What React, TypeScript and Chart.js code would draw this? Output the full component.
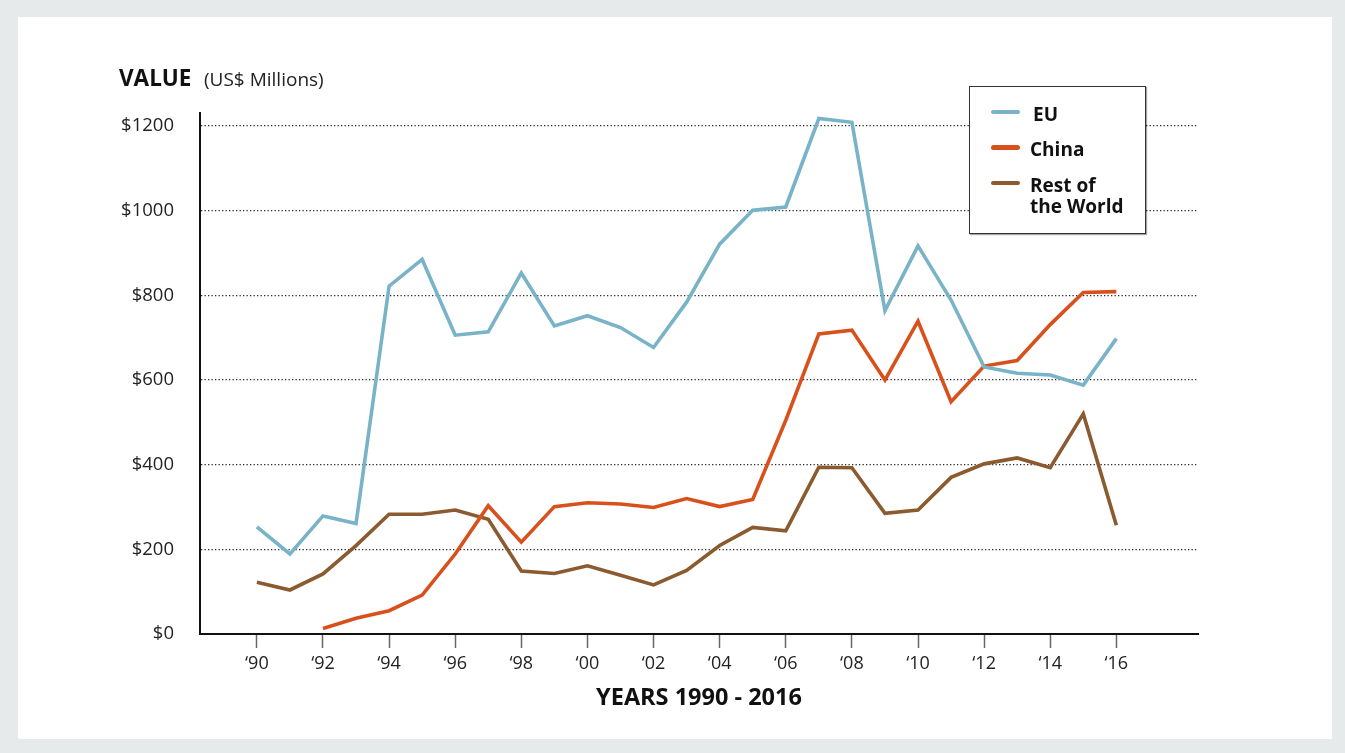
import React, { useEffect, useRef } from "react";
import { Chart, registerables } from "chart.js";

Chart.register(...registerables);

// ---------- data ----------
const years = [
  1990, 1991, 1992, 1993, 1994, 1995, 1996, 1997, 1998, 1999, 2000, 2001, 2002,
  2003, 2004, 2005, 2006, 2007, 2008, 2009, 2010, 2011, 2012, 2013, 2014, 2015, 2016,
];
const euValues = [
  253, 189, 279, 261, 822, 885, 706, 714, 853, 728, 752, 724, 677,
  784, 921, 1001, 1009, 1218, 1209, 764, 917, 789, 631, 616, 612, 588, 698,
];
const chinaValues = [
  null, null, 13, 37, 55, 92, 189, 303, 217, 301, 310, 307, 299,
  320, 301, 318, 505, 709, 718, 600, 739, 549, 633, 646, 731, 807, 809,
];
const restValues = [
  122, 104, 142, 209, 283, 283, 293, 271, 149, 143, 161, 139, 116,
  150, 209, 252, 244, 394, 393, 285, 293, 370, 402, 416, 393, 520, 257,
];
const seriesNames = ["EU", "China", "Rest of\nthe World"];
const seriesColors = ["#79b3c8", "#d8511d", "#8c5a2f"];

const xTickYears = [1990, 1992, 1994, 1996, 1998, 2000, 2002, 2004, 2006, 2008, 2010, 2012, 2014, 2016];
const xTickLabels = ["‘90", "‘92", "‘94", "‘96", "‘98", "‘00", "‘02", "‘04", "‘06", "‘08", "‘10", "‘12", "‘14", "‘16"];
const yTickValues = [0, 200, 400, 600, 800, 1000, 1200];
const yTickLabels = ["$0", "$200", "$400", "$600", "$800", "$1000", "$1200"];

const yTitle = "VALUE";
const yTitleUnit = "(US$ Millions)";
const xTitle = "YEARS 1990 - 2016";

const FONT = "'Open Sans', 'Noto Sans', 'DejaVu Sans', sans-serif";

export default function App() {
  const canvasRef = useRef<HTMLCanvasElement | null>(null);

  useEffect(() => {
    const canvas = canvasRef.current;
    if (!canvas) return;
    const allValues = [euValues, chinaValues, restValues];
    const chart = new Chart(canvas, {
      type: "line",
      data: {
        datasets: allValues.map((vals, i) => ({
          label: seriesNames[i].replace("\n", " "),
          data: years.map((yr, j) => ({ x: yr, y: vals[j] as any })),
          borderColor: seriesColors[i],
          backgroundColor: seriesColors[i],
          borderWidth: 3.6,
          pointRadius: 0,
          pointHoverRadius: 0,
          fill: false,
          tension: 0,
          spanGaps: false,
          borderJoinStyle: "miter" as const,
          borderCapStyle: "butt" as const,
        })),
      },
      options: {
        responsive: false,
        animation: false,
        events: [],
        layout: { padding: { left: 0, right: 147, top: 113, bottom: 0 } },
        plugins: {
          legend: { display: false },
          tooltip: { enabled: false },
          title: { display: false },
        },
        scales: {
          x: {
            type: "linear",
            position: "bottom",
            min: 1988.28,
            max: 2018.47,
            afterBuildTicks: (s: any) => {
              s.ticks = xTickYears.map((v) => ({ value: v }));
            },
            afterFit: (s: any) => {
              s.height = 119;
            },
            ticks: {
              autoSkip: false,
              maxRotation: 0,
              padding: 5,
              color: "#222",
              font: { family: FONT, size: 18 },
              callback: (v: any) => {
                const idx = xTickYears.indexOf(Number(v));
                return idx >= 0 ? xTickLabels[idx] : "";
              },
            },
            grid: {
              drawOnChartArea: false,
              drawTicks: true,
              tickLength: 14,
              tickColor: "#666",
              tickWidth: 1.5,
            },
            border: { display: true, color: "#111", width: 2 },
            title: {
              display: true,
              text: xTitle,
              color: "#111",
              font: { family: FONT, size: 23.5, weight: "bold" },
              padding: { top: 0, bottom: 41 },
            },
          },
          y: {
            type: "linear",
            min: 0,
            max: 1231,
            afterBuildTicks: (s: any) => {
              s.ticks = yTickValues.map((v) => ({ value: v }));
            },
            afterFit: (s: any) => {
              s.width = 200;
            },
            ticks: {
              padding: 26,
              color: "#222",
              font: { family: FONT, size: 18.5 },
              callback: (v: any) => {
                const idx = yTickValues.indexOf(Number(v));
                return idx >= 0 ? yTickLabels[idx] : "";
              },
            },
            grid: {
              drawTicks: false,
              lineWidth: 1.3,
              color: (ctx: any) => (ctx.tick && ctx.tick.value === 0 ? "rgba(0,0,0,0)" : "#2a2a2a"),
            },
            border: { display: true, color: "#111", width: 2, dash: [1.3, 2.2] },
          },
        },
      } as any,
    });
    return () => chart.destroy();
  }, []);

  return (
    <div
      style={{
        position: "fixed",
        left: 0,
        top: 0,
        width: 1345,
        height: 753,
        background: "#e7eaeb",
        overflow: "hidden",
        fontFamily: FONT,
      }}
    >
      <div style={{ position: "absolute", left: 18, top: 17, width: 1314, height: 722, background: "#fff" }} />
      <canvas
        ref={canvasRef}
        width={1345}
        height={753}
        style={{ position: "absolute", left: 0, top: 0, width: 1345, height: 753 }}
      />
      <div
        style={{
          position: "absolute",
          left: 119,
          top: 67,
          fontSize: 22.5,
          lineHeight: "22.5px",
          fontWeight: 700,
          color: "#111",
          whiteSpace: "nowrap",
        }}
      >
        {yTitle}
      </div>
      <div
        style={{
          position: "absolute",
          left: 204,
          top: 70,
          fontSize: 19,
          lineHeight: "19px",
          color: "#222",
          whiteSpace: "nowrap",
        }}
      >
        {yTitleUnit}
      </div>
      <div
        style={{
          position: "absolute",
          left: 969,
          top: 86,
          width: 177,
          height: 148,
          boxSizing: "border-box",
          border: "1px solid #333",
          background: "#fff",
          boxShadow: "1px 1px 1px rgba(0,0,0,0.35)",
        }}
      >
        {seriesNames.map((name, i) => (
          <React.Fragment key={name}>
            <div
              style={{
                position: "absolute",
                left: 21,
                top: 22.75 + i * 35.5,
                width: 29,
                height: 4.5,
                borderRadius: 3,
                background: seriesColors[i],
              }}
            />
            <div
              style={{
                position: "absolute",
                left: i === 0 ? 63 : 60,
                top: 16.8 + i * 35.6,
                fontSize: 19,
                lineHeight: "21px",
                fontWeight: 700,
                color: "#111",
                whiteSpace: "pre-line",
              }}
            >
              {name}
            </div>
          </React.Fragment>
        ))}
      </div>
    </div>
  );
}
